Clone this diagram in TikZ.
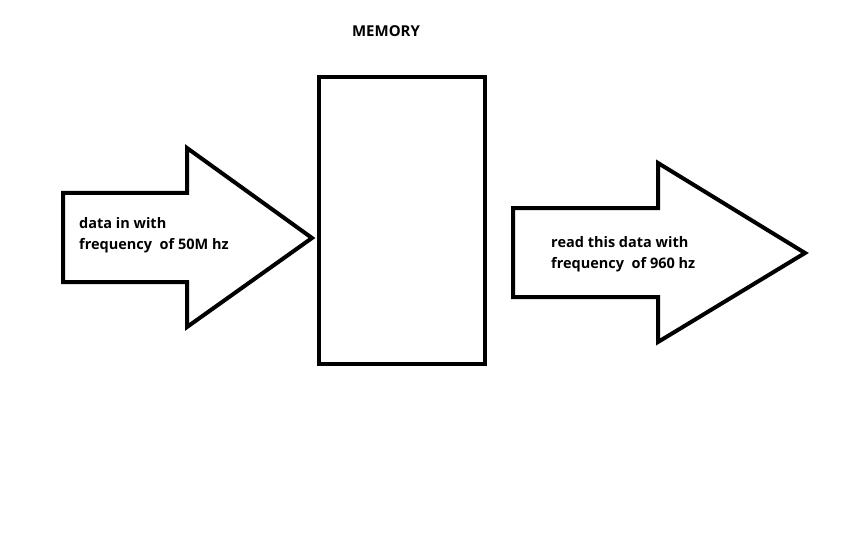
\documentclass[tikz,border=0pt]{standalone}
\usepackage{fontspec}
\setmainfont{Open Sans}
\begin{document}
\begin{tikzpicture}[x=1pt,y=-1pt,
  shape line/.style={line width=4pt,line join=miter,draw=black},
  lbl/.style={font=\bfseries\fontsize{14.5}{21}\selectfont,align=left,anchor=west,inner sep=0pt}]
\useasboundingbox (0,0) rectangle (864,540);
\draw[shape line] (63,193) -- (187,193) -- (187,148) -- (312,238) -- (187,327) -- (187,282) -- (63,282) -- cycle;
\node[draw,line width=4pt,minimum width=166pt,minimum height=287pt,inner sep=0pt,anchor=north west] (mem) at (317,75) {};
\draw[shape line] (513,208) -- (658,208) -- (658,163) -- (805,253) -- (658,342) -- (658,297) -- (513,297) -- cycle;
\node[font=\bfseries\fontsize{15}{18}\selectfont] (title) at (386,31) {MEMORY};
\node[lbl] (inlbl) at (79,235) {data in with\\frequency\ \ of 50M hz};
\node[lbl] (outlbl) at (551,254) {read this data with\\frequency\ \ of 960 hz};
\end{tikzpicture}
\end{document}
